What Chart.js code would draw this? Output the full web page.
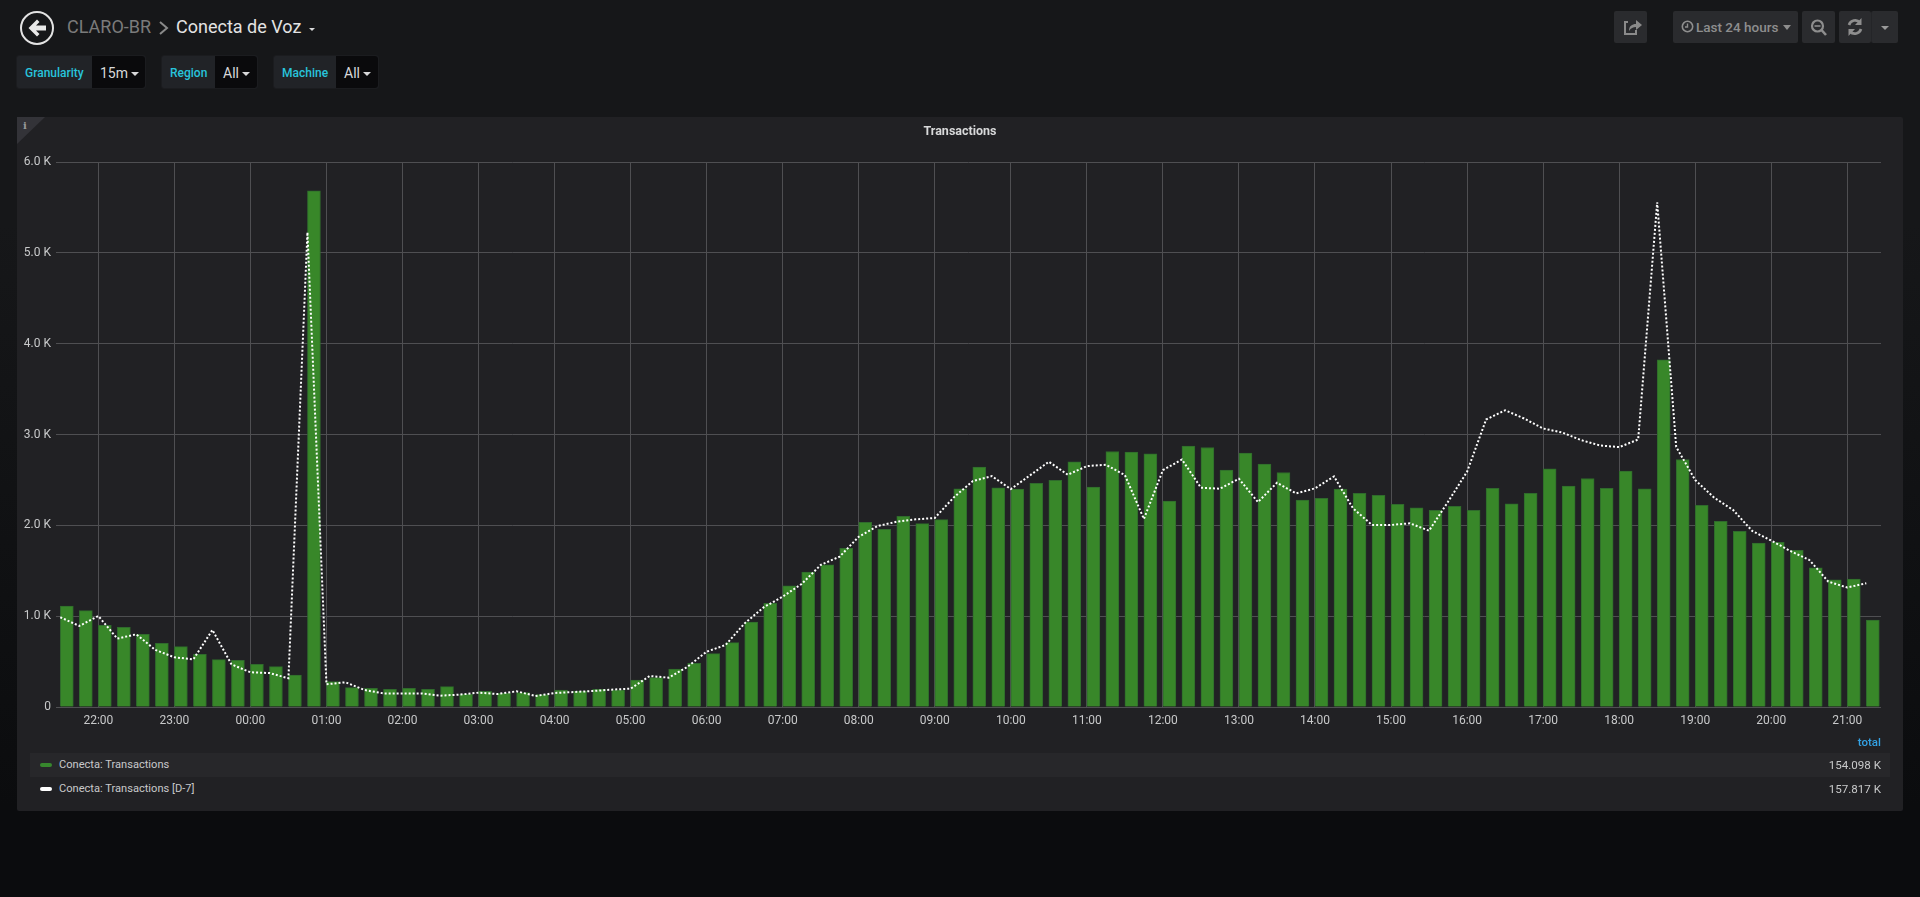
<!DOCTYPE html>
<html><head><meta charset="utf-8">
<script src="https://cdn.jsdelivr.net/npm/chart.js@4/dist/chart.umd.min.js"></script>
<style>
html,body{margin:0;padding:0;width:1920px;height:897px;overflow:hidden;font-family:Roboto,sans-serif;background:linear-gradient(to bottom,#161719 0,#161719 25%,#0b0c0e 90%);}
.a{position:absolute;white-space:nowrap}
.btn{position:absolute;background:#2a2b2e;border-radius:2px;top:11px;height:32px}
.var{position:absolute;top:55px;height:34px;background:#212327;border-radius:3px;box-sizing:border-box;border:1px solid #1b1c1f}
.var b{position:absolute;top:1px;height:32px;line-height:32px;font-size:12px;font-weight:500;color:#28c4dc;left:8px}
.var i{position:absolute;top:0;bottom:0;right:0;background:#0a0a0c;border-radius:0 3px 3px 0;font-style:normal;color:#d8d9da;font-size:14px;line-height:34px;padding-left:8px;box-sizing:border-box}
.car{display:inline-block;width:0;height:0;border-left:4px solid transparent;border-right:4px solid transparent;border-top:4px solid #d8d9da;vertical-align:2px;margin-left:3px}
#panel{position:absolute;left:17px;top:117px;width:1886px;height:694px;background:#212124;border-radius:2px}
#wrap{position:absolute;left:17px;top:117px;width:1886px;height:620px}
.row{position:absolute;left:30px;width:1860px;height:24px;line-height:24px;font-size:11.1px;color:#c8c9ca}
.row span.t{position:absolute;left:29px}
.row span.v{position:absolute;right:9px;font-size:11.6px}
.row span.s{position:absolute;left:10px;top:10px;width:12px;height:4px;border-radius:2px}
</style></head><body>
<svg class="a" style="left:18px;top:10px" width="38" height="38" viewBox="0 0 38 38">
<circle cx="19" cy="18" r="16" fill="none" stroke="#e3e3e3" stroke-width="2"/>
<path d="M10.5 18 L19 9.5 L21.5 12 L18 15.5 L28 15.5 L28 20.5 L18 20.5 L21.5 24 L19 26.5 Z" fill="#e8e8e8"/></svg>
<div class="a" style="left:67px;top:15px;font-size:18px;line-height:24px;color:#7b7b7b">CLARO-BR</div>
<svg class="a" style="left:158px;top:20px" width="12" height="16"><path d="M2 2 L9 8 L2 14" fill="none" stroke="#8a8a8a" stroke-width="2"/></svg>
<div class="a" style="left:176px;top:15px;font-size:18px;line-height:24px;color:#e3e3e3">Conecta de Voz</div>
<div class="a" style="left:309px;top:28px;width:0;height:0;border-left:3.5px solid transparent;border-right:3.5px solid transparent;border-top:3.5px solid #d8d9da"></div>

<div class="var" style="left:16px;width:130px"><b>Granularity</b><i style="width:53px">15m<span class="car"></span></i></div>
<div class="var" style="left:161px;width:97px"><b>Region</b><i style="width:42px">All<span class="car"></span></i></div>
<div class="var" style="left:273px;width:106px"><b>Machine</b><i style="width:42px">All<span class="car"></span></i></div>

<div class="btn" style="left:1614px;width:33px"><svg width="33" height="32"><path d="M14 11 H11 V23 H22 V19" fill="none" stroke="#8a8a8a" stroke-width="2"/><path d="M15 20 C15 15 18 13 22 13 V9 L28 14 L22 19 V16 C19 16 17 17 15 20Z" fill="#8a8a8a"/></svg></div>
<div class="btn" style="left:1673px;width:125px;color:#8e8e8e;font-size:13.5px;font-weight:500;line-height:32px">
<svg style="position:absolute;left:8px;top:9px" width="13" height="13"><circle cx="6.5" cy="6.5" r="5.2" fill="none" stroke="#8e8e8e" stroke-width="1.6"/><path d="M6.5 3.5 V7 H4" fill="none" stroke="#8e8e8e" stroke-width="1.4"/></svg>
<span style="position:absolute;left:23px">Last 24 hours</span><span class="car" style="position:absolute;left:107px;top:14px;border-top-color:#8e8e8e;border-left-width:4.5px;border-right-width:4.5px;border-top-width:5px"></span></div>
<div class="btn" style="left:1802px;width:33px"><svg width="33" height="32"><circle cx="15.5" cy="15" r="5.5" fill="none" stroke="#8e8e8e" stroke-width="2.2"/><path d="M19.5 19 L24 24" stroke="#8e8e8e" stroke-width="2.6"/><path d="M12.5 15 H18.5" stroke="#8e8e8e" stroke-width="1.6"/></svg></div>
<div class="btn" style="left:1839px;width:32px"><svg width="32" height="32"><path d="M10 14 A6.5 6.5 0 0 1 21 11.5" fill="none" stroke="#8e8e8e" stroke-width="2.6"/><path d="M22.5 7 V14 H16Z" fill="#8e8e8e"/><path d="M22 18 A6.5 6.5 0 0 1 11 20.5" fill="none" stroke="#8e8e8e" stroke-width="2.6"/><path d="M9.5 25 V18 H16Z" fill="#8e8e8e"/></svg></div>
<div class="btn" style="left:1871px;width:27px;border-left:1px solid #242528;box-sizing:border-box"><div style="position:absolute;left:9px;top:15px;width:0;height:0;border-left:4px solid transparent;border-right:4px solid transparent;border-top:4px solid #9a9a9a"></div></div>

<div id="panel">
<svg class="a" style="left:0;top:0" width="28" height="27"><path d="M0 0 H28 L0 27Z" fill="#333338"/><text x="8" y="12" font-size="10" font-family="DejaVu Serif" font-weight="700" fill="#9a9a9a" text-anchor="middle">i</text></svg>
</div>
<div id="wrap"><canvas id="c"></canvas></div>
<div id="legend"></div>

<script>
const seriesNames = ['Conecta: Transactions', 'Conecta: Transactions [D-7]'];
const seriesTotals = ['154.098 K', '157.817 K'];
const seriesColors = ['#37872d', '#ffffff'];
const chartTitle = 'Transactions';
const yTicks = [0, 1000, 2000, 3000, 4000, 5000, 6000];
const yTickLabels = ['0', '1.0 K', '2.0 K', '3.0 K', '4.0 K', '5.0 K', '6.0 K'];
const xTickLabels = ['22:00','23:00','00:00','01:00','02:00','03:00','04:00','05:00','06:00','07:00','08:00','09:00','10:00','11:00','12:00','13:00','14:00','15:00','16:00','17:00','18:00','19:00','20:00','21:00'];
const firstSlotMinutes = 21 * 60 + 30;
const slotMinutes = 15;

const transactions = [
 1112,1061,899,877,800,701,664,580,521,514,470,444,352,5683,279,213,205,195,205,195,
 224,140,173,151,158,136,187,176,195,187,297,323,418,481,587,708,936,1142,1333,1484,
 1564,1747,2033,1956,2099,2018,2062,2403,2641,2414,2399,2462,2495,2700,2421,2813,2806,2788,2267,2872,
 2857,2608,2795,2674,2582,2278,2297,2399,2352,2330,2231,2194,2165,2209,2165,2407,2238,2352,2623,2432,
 2516,2407,2597,2403,3822,2725,2220,2044,1934,1806,1813,1725,1531,1399,1407,956];
const transactionsD7 = [
 988,892,1002,753,800,628,547,525,848,470,382,374,316,5226,250,272,187,150,150,150,
 125,136,158,143,173,121,154,165,176,191,202,341,323,444,609,683,921,1098,1215,1355,
 1564,1656,1875,1993,2040,2066,2081,2308,2487,2542,2399,2549,2700,2557,2652,2667,2553,2070,2608,2725,
 2414,2403,2513,2256,2469,2352,2407,2538,2187,2004,2004,2022,1941,2260,2590,3165,3267,3176,3066,3022,
 2938,2879,2861,2945,5556,2864,2498,2304,2168,1938,1832,1718,1619,1381,1315,1363];

const slots = transactions.map((_, i) => firstSlotMinutes + i * slotMinutes);
const hourTicks = xTickLabels.map((_, i) => 22 * 60 + i * 60);
const axisMin = firstSlotMinutes - 3.4;
const axisMax = axisMin + 24 * 60;
const barShift = 6.5 * 60 / 76;   // bars start at their timestamp rather than centring on it

const legendEl = document.getElementById('legend');
legendEl.innerHTML =
 '<div class="a" style="right:39px;top:735px;font-size:11.5px;font-weight:500;color:#33a2e5;line-height:14px">total</div>' +
 seriesNames.map((n, i) =>
  `<div class="row" style="top:${753 + i * 24}px;background:${i === 0 ? '#27272a' : 'transparent'}">
   <span class="s" style="background:${seriesColors[i]}"></span><span class="t">${n}</span><span class="v">${seriesTotals[i]}</span></div>`).join('');

new Chart(document.getElementById('c'), {
 data: { datasets: [
  { type: 'line', label: seriesNames[1], data: slots.map((x, i) => ({ x, y: transactionsD7[i] })),
    borderColor: '#ffffff', borderWidth: 2, borderDash: [2, 2], pointRadius: 0, tension: 0, order: 1 },
  { type: 'bar', label: seriesNames[0], data: slots.map((x, i) => ({ x: x + barShift, y: transactions[i] })),
    backgroundColor: '#388729', borderColor: '#2f6b2c', borderWidth: 1, barThickness: 13, order: 2 }
 ]},
 options: {
  responsive: true, maintainAspectRatio: false, animation: false,
  layout: { padding: 0 },
  plugins: {
   legend: { display: false }, tooltip: { enabled: false },
   title: { display: true, text: chartTitle, color: '#d8d9da', font: { family: 'Roboto', size: 12.5, weight: '700' }, padding: { top: 7, bottom: 23 } }
  },
  scales: {
   x: { type: 'linear', offset: false, min: axisMin, max: axisMax,
    afterBuildTicks: s => { s.ticks = hourTicks.map(value => ({ value })); },
    afterFit: s => { s.height = 30; },
    grid: { color: '#4f4f52', lineWidth: 1, drawTicks: false, offset: false }, border: { display: false },
    ticks: { color: '#c8c9ca', font: { family: 'Roboto', size: 12 }, padding: 7, maxRotation: 0, autoSkip: false,
     callback: (v, i) => xTickLabels[i] } },
   y: { type: 'linear', min: 0, max: 6000,
    afterBuildTicks: s => { s.ticks = yTicks.map(value => ({ value })); },
    afterFit: s => { s.width = 39; },
    grid: { color: '#4f4f52', lineWidth: 1, drawTicks: false }, border: { display: false },
    ticks: { color: '#c8c9ca', font: { family: 'Roboto', size: 12 }, padding: 5,
     callback: (v, i) => yTickLabels[i] } },
   // empty right-hand axis: reserves the panel's right margin so the title stays centred on the panel
   margin: { type: 'linear', position: 'right', min: 0, max: 1,
    afterFit: s => { s.width = 22; },
    grid: { display: false }, border: { display: false }, ticks: { display: false } }
  }
 }
});
</script>
</body></html>
